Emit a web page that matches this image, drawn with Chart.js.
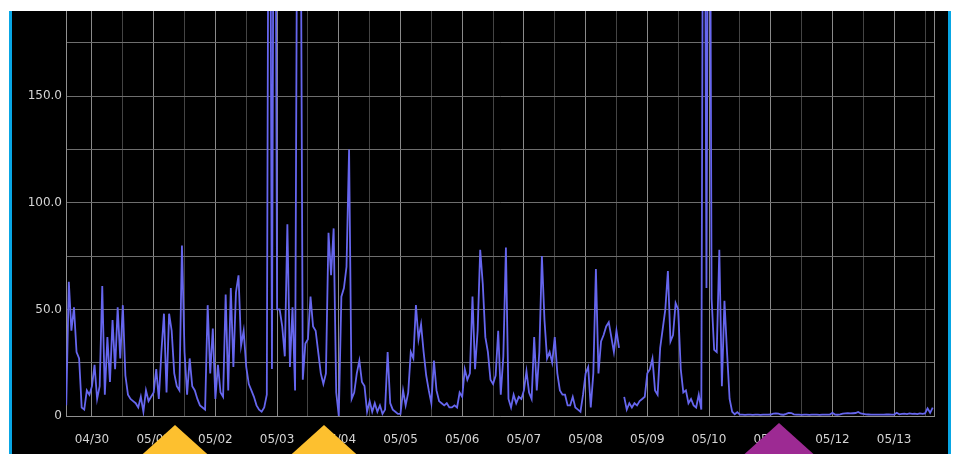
<!DOCTYPE html>
<html>
<head>
<meta charset="utf-8">
<script src="https://cdn.jsdelivr.net/npm/chart.js@4.4.1/dist/chart.umd.min.js"></script>
<style>
  html, body { margin: 0; padding: 0; background: #fff; overflow: hidden; }
  body { width: 954px; height: 454px; position: relative; }
  #panel { position: absolute; left: 9px; top: 11px; width: 936px; height: 443px; background: #000;
           border-left: 3px solid #08a6e4; border-right: 3px solid #08a6e4; }
  #panel canvas { display: block; }
  .marker { position: absolute; width: 80px; height: 36px; clip-path: polygon(50% 0, 100% 100%, 0 100%); }
</style>
</head>
<body>
<div id="panel"><canvas id="myChart"></canvas></div>
<div class="marker" style="left:135px; top:425px; background:#fdc02f;"></div>
<div class="marker" style="left:284px; top:425px; background:#fdc02f;"></div>
<div class="marker" style="left:739px; top:423px; background:#9d2a93;"></div>
<script>
// hourly readings, hour 0 = 04/30 00:00, series starts 04/29 14:00
const dayLabels = ['04/30', '05/01', '05/02', '05/03', '05/04', '05/05', '05/06',
                   '05/07', '05/08', '05/09', '05/10', '05/11', '05/12', '05/13'];
const firstHour = -10;

const apr29 = [5, 63, 40, 51, 30, 27, 4, 3, 12, 10];
const apr30 = [14, 24, 8, 14, 61, 10, 37, 16, 45, 22, 51, 27, 52, 19, 10, 8, 7, 6, 4, 9, 2, 12, 7, 9];
const may01 = [11, 22, 8, 30, 48, 11, 48, 40, 20, 14, 12, 80, 30, 10, 27, 14, 12, 8, 5, 4, 3, 52, 20, 41];
const may02 = [8, 24, 11, 9, 57, 12, 60, 23, 58, 66, 33, 40, 23, 15, 12, 9, 5, 3, 2, 4, 10, 400, 22, 400];
const may03 = [50, 50, 42, 28, 90, 23, 51, 12, 300, 300, 17, 34, 36, 56, 42, 40, 30, 20, 15, 20, 86, 66, 88, 11];
const may04 = [0, 56, 60, 70, 125, 8, 11, 20, 26, 16, 14, 2, 7, 2, 6, 2, 5, 1, 3, 30, 6, 3, 2, 1];
const may05 = [1, 12, 5, 11, 30, 27, 52, 36, 43, 30, 19, 12, 6, 26, 12, 7, 6, 5, 6, 4, 4, 5, 4, 11];
const may06 = [9, 22, 17, 20, 56, 22, 40, 78, 62, 37, 30, 17, 15, 19, 40, 10, 28, 79, 8, 4, 10, 6, 9, 8];
const may07 = [12, 21, 11, 8, 37, 12, 30, 75, 45, 27, 30, 25, 37, 20, 12, 10, 10, 5, 5, 9, 4, 3, 2, 10];
const may08 = [20, 23, 4, 20, 69, 20, 35, 38, 42, 44, 37, 30, 40, 32, null, 9, 3, 6, 4, 6, 5, 7, 8, 9];
const may09 = [20, 22, 27, 12, 10, 32, 41, 50, 68, 35, 38, 53, 50, 22, 11, 12, 6, 8, 5, 4, 10, 3, 400, 60];
const may10 = [400, 55, 31, 30, 78, 14, 54, 30, 8, 2, 0.8, 1.8, 0.6, 0.6, 0.5, 0.6, 0.6, 0.5, 0.6, 0.6, 0.5, 0.6, 0.6, 0.6];
const may11 = [0.7, 1.1, 1.2, 1.1, 0.7, 0.6, 1.0, 1.5, 1.4, 0.8, 0.6, 0.6, 0.5, 0.6, 0.6, 0.5, 0.6, 0.6, 0.6, 0.5, 0.6, 0.6, 0.6, 0.7];
const may12 = [1.5, 0.7, 0.6, 0.8, 1.1, 1.2, 1.3, 1.2, 1.3, 1.4, 1.9, 1.2, 1.0, 0.8, 0.7, 0.6, 0.6, 0.6, 0.6, 0.6, 0.6, 0.7, 0.7, 0.6];
const may13 = [0.7, 1.5, 0.8, 1.0, 1.1, 0.9, 1.2, 1.0, 1.1, 0.9, 1.2, 1.0, 1.2, 3.6, 1.5, 3.9];

const yTicks = [0, 25, 50, 75, 100, 125, 150, 175];
const xMin = -10.1, xMax = 327.5;

var values = [].concat(apr29, apr30, may01, may02, may03, may04, may05, may06,
                       may07, may08, may09, may10, may11, may12, may13);
var points = values.map((v, i) => ({ x: firstHour + i, y: v }));

// grid every 12h, midnight lines brighter, plus the right edge
var xTicks = [];
for (let h = 0; h < xMax; h += 12) xTicks.push(h);
xTicks.push(xMax);

const tickFont = { family: 'DejaVu Sans', size: 12 };

const ctx = document.getElementById('myChart').getContext('2d');
const myChart = new Chart(ctx, {
    type: 'line',
    data: {
        datasets: [{
            data: points,
            borderColor: '#6666ee',
            borderWidth: 1.8,
            pointRadius: 0,
            tension: 0,
            spanGaps: false
        }]
    },
    options: {
        responsive: true,
        maintainAspectRatio: false,
        animation: false,
        layout: { padding: { top: 0, right: 14, bottom: 0, left: 0 } },
        plugins: { legend: { display: false }, tooltip: { enabled: false } },
        scales: {
            x: {
                type: 'linear',
                min: xMin,
                max: xMax,
                afterBuildTicks: s => { s.ticks = xTicks.map(v => ({ value: v })) },
                afterFit: s => { s.height = 38; s.paddingLeft = 0; s.paddingRight = 0 },
                grid: {
                    drawTicks: false,
                    color: c => (c.tick && (c.tick.value % 24 === 0 || c.tick.value === xMax)) ? '#8a8a8a' : '#444444'
                },
                border: { color: '#909090' },
                ticks: {
                    autoSkip: false,
                    maxRotation: 0,
                    padding: 17,
                    color: '#d4d4d4',
                    font: tickFont,
                    callback: v => v % 24 === 0 ? dayLabels[v / 24] : ''
                }
            },
            y: {
                min: 0,
                max: 190,
                afterBuildTicks: s => { s.ticks = yTicks.map(v => ({ value: v })) },
                afterFit: s => { s.width = 54; s.paddingTop = 0; s.paddingBottom = 0 },
                grid: { drawTicks: false, color: '#6e6e6e' },
                border: { color: '#909090' },
                ticks: {
                    padding: 4,
                    color: '#d4d4d4',
                    font: tickFont,
                    callback: v => v % 50 === 0 ? (v === 0 ? '0' : v.toFixed(1)) : ''
                }
            }
        }
    }
});
</script>
</body>
</html>
